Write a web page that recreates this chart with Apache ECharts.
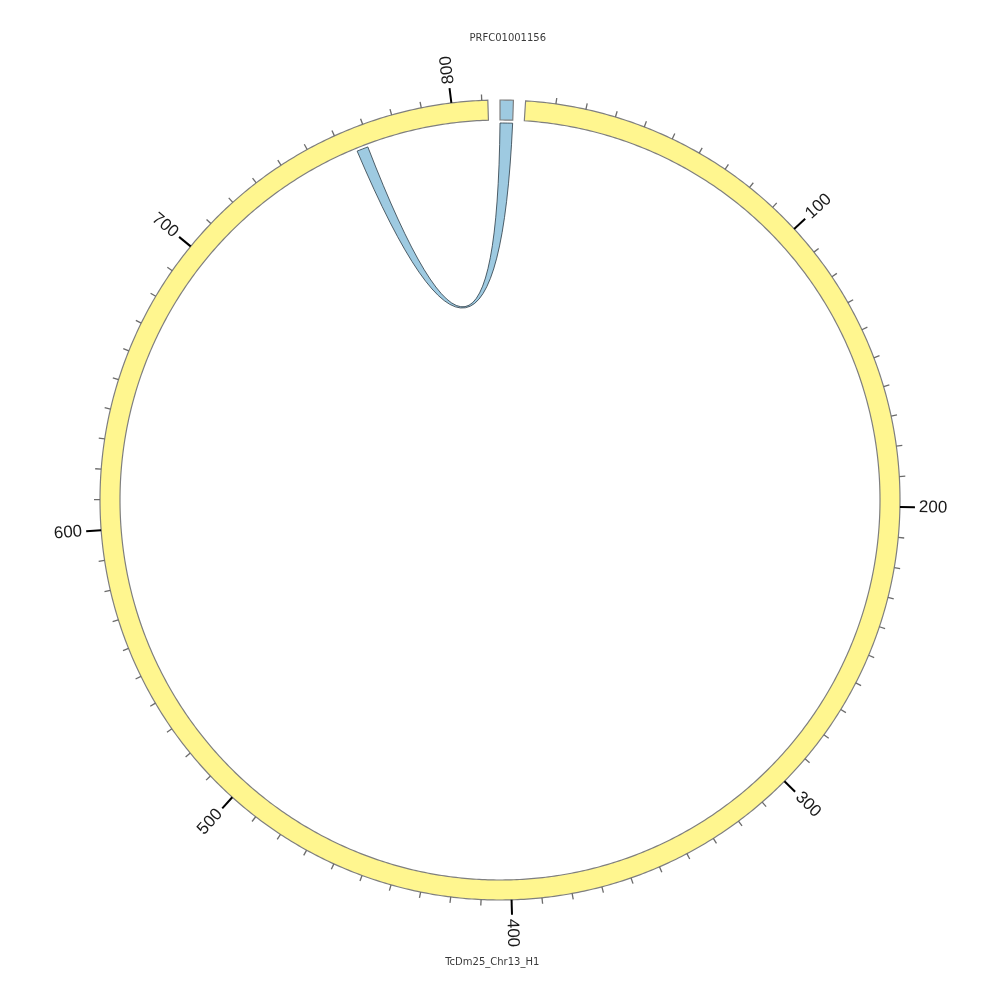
<!DOCTYPE html>
<html>
<head>
<meta charset="utf-8">
<script src="https://cdn.jsdelivr.net/npm/echarts@6/dist/echarts.min.js"></script>
<style>html,body{margin:0;padding:0;background:#fff;}#main{width:1000px;height:1000px;}</style>
</head>
<body>
<div id="main"></div>
<script>
// ---- data ----
const segmentNames = ['TcDm25_Chr13_H1', 'PRFC01001156'];
const segmentStarts = [0, 816];          // position on the circle (same units as kb)
const segmentLengths = [812, 4.4];
const segmentColors = ['#fff68f', '#9ecae1'];
const gapSize = 4;
const linkSource = [816, 820.4];         // on PRFC01001156
const linkTarget = [765, 769];           // on TcDm25_Chr13_H1
const majorTickLabels = ['100', '200', '300', '400', '500', '600', '700', '800'];
const tickStep = 10, tickFirst = 10, tickLast = 810;

const totalLength = segmentStarts[1] + segmentLengths[1] + gapSize;
const tickPositions = [];
for (let v = tickFirst; v <= tickLast; v += tickStep) tickPositions.push(v);

const R_OUT = 400, R_IN = 380, R_LINK = 377, R_LABEL = 419, R_NAME = 462, R_CTRL = 22;

function arcPts(api, r, a0, a1) {
  const n = Math.max(2, Math.ceil(Math.abs(a1 - a0) / 1) + 1);
  const pts = [];
  for (let i = 0; i < n; i++) pts.push(api.coord([r, a0 + (a1 - a0) * i / (n - 1)]));
  return pts;
}

const chart = echarts.init(document.getElementById('main'));
chart.setOption({
  animation: false,
  backgroundColor: '#fff',
  polar: { center: ['50%', '50%'], radius: 500 },
  angleAxis: { type: 'value', min: 0, max: totalLength, startAngle: 90 - 3.67, clockwise: true, show: false },
  radiusAxis: { type: 'value', min: 0, max: 500, show: false },
  series: [
    {
      type: 'custom', coordinateSystem: 'polar', silent: true,
      data: segmentNames.map((n, i) => [0, segmentStarts[i], segmentStarts[i] + segmentLengths[i], i]),
      renderItem(params, api) {
        const a0 = api.value(1), a1 = api.value(2), i = api.value(3);
        const pts = arcPts(api, R_OUT, a0, a1).concat(arcPts(api, R_IN, a1, a0));
        return { type: 'polygon', shape: { points: pts }, style: { fill: segmentColors[i], stroke: '#7f7f7f', lineWidth: 1.2 } };
      }
    },
    {
      type: 'custom', coordinateSystem: 'polar', silent: true,
      data: [[0, linkSource[0], linkSource[1], linkTarget[0], linkTarget[1]]],
      renderItem(params, api) {
        const s0 = api.value(1), s1 = api.value(2), t0 = api.value(3), t1 = api.value(4);
        const c = api.coord([R_CTRL, ((s0 + s1) / 2 + (t0 + t1) / 2) / 2]);
        const sa = arcPts(api, R_LINK, s0, s1), ta = arcPts(api, R_LINK, t0, t1);
        let d = 'M' + sa[0][0] + ' ' + sa[0][1];
        for (let k = 1; k < sa.length; k++) d += ' L' + sa[k][0] + ' ' + sa[k][1];
        d += ' Q' + c[0] + ' ' + c[1] + ' ' + ta[0][0] + ' ' + ta[0][1];
        for (let k = 1; k < ta.length; k++) d += ' L' + ta[k][0] + ' ' + ta[k][1];
        d += ' Q' + c[0] + ' ' + c[1] + ' ' + sa[0][0] + ' ' + sa[0][1] + ' Z';
        return { type: 'path', shape: { pathData: d }, style: { fill: '#9ecae1', stroke: '#2b3a44', lineWidth: 0.8 } };
      }
    },
    {
      type: 'custom', coordinateSystem: 'polar', silent: true,
      data: tickPositions.map(v => [0, segmentStarts[0] + v, v]),
      renderItem(params, api) {
        const a = api.value(1), v = api.value(2);
        const major = v % 100 === 0;
        const p0 = api.coord([R_OUT, a]), p1 = api.coord([R_OUT + (major ? 15 : 6), a]);
        return { type: 'line', shape: { x1: p0[0], y1: p0[1], x2: p1[0], y2: p1[1] },
          style: { stroke: major ? '#000' : '#6b6b6b', lineWidth: major ? 2 : 1.3 } };
      }
    },
    {
      type: 'custom', coordinateSystem: 'polar', silent: true,
      data: majorTickLabels.map((s, i) => [0, segmentStarts[0] + Number(s), i]),
      renderItem(params, api) {
        const a = api.value(1), i = api.value(2);
        const p = api.coord([R_LABEL, a]);
        const cx = params.coordSys.cx, cy = params.coordSys.cy;
        let th = Math.atan2(p[0] - cx, cy - p[1]) * 180 / Math.PI;
        if (th < 0) th += 360;
        const flip = th > 185 && th < 345;
        const rot = ((90 - th) + (flip ? 180 : 0)) * Math.PI / 180;
        return { type: 'text', x: p[0], y: p[1], rotation: rot,
          style: { text: majorTickLabels[i], fontSize: 17, fontFamily: 'Liberation Sans', fill: '#1a1a1a',
            align: flip ? 'right' : 'left', verticalAlign: 'middle' } };
      }
    },
    {
      type: 'custom', coordinateSystem: 'polar', silent: true,
      data: segmentNames.map((n, i) => [0, segmentStarts[i] + segmentLengths[i] / 2, i]),
      renderItem(params, api) {
        const a = api.value(1), i = api.value(2);
        const p = api.coord([R_NAME, a]);
        return { type: 'text', x: p[0], y: p[1],
          style: { text: segmentNames[i], fontSize: 10, fontFamily: 'DejaVu Sans', fill: '#3a3a3a',
            align: 'center', verticalAlign: 'middle' } };
      }
    }
  ]
});
</script>
</body>
</html>
